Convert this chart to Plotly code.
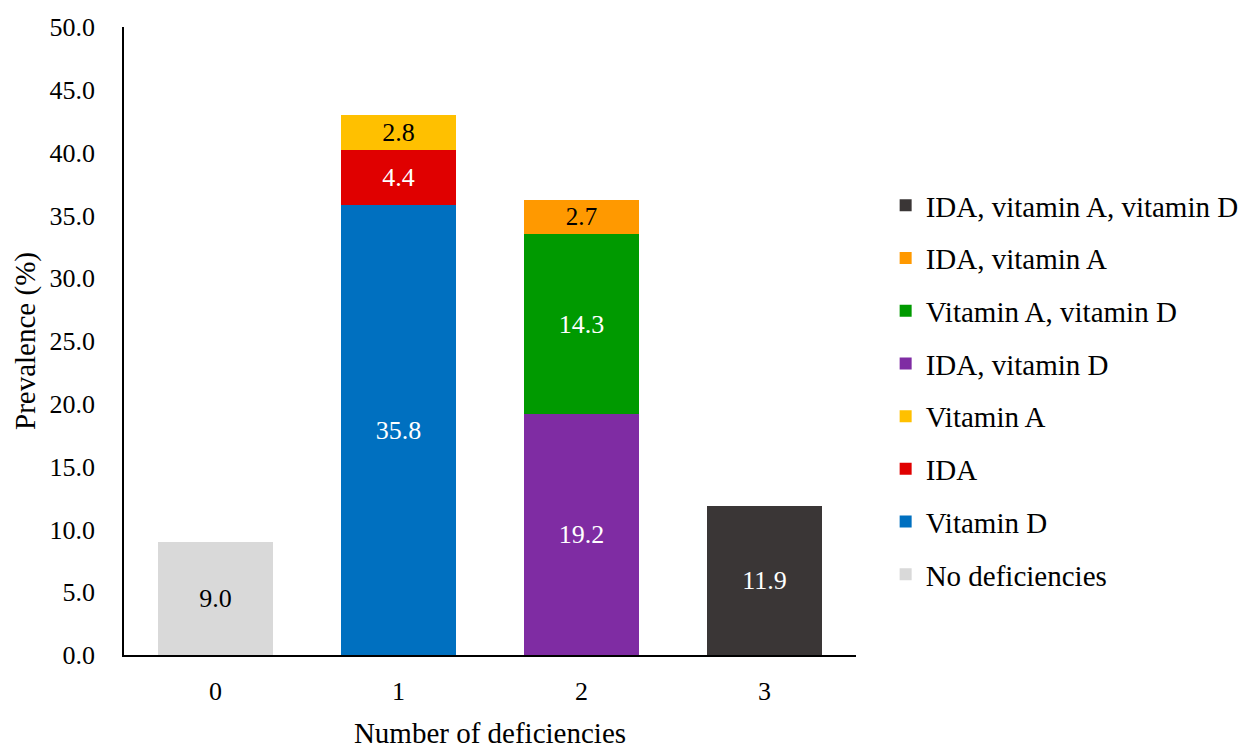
import plotly.graph_objects as go

# Number of deficiencies on the x axis
categories = ["0", "1", "2", "3"]

# Each deficiency combination, the category it belongs to, its prevalence (%) and colour
series_names = [
    "No deficiencies",
    "Vitamin D",
    "IDA",
    "Vitamin A",
    "IDA, vitamin D",
    "Vitamin A, vitamin D",
    "IDA, vitamin A",
    "IDA, vitamin A, vitamin D",
]
series_category = ["0", "1", "1", "1", "2", "2", "2", "3"]
series_values = [9.0, 35.8, 4.4, 2.8, 19.2, 14.3, 2.7, 11.9]
series_colors = [
    "#D9D9D9",
    "#0070C0",
    "#E00000",
    "#FFC000",
    "#7F2CA3",
    "#009A00",
    "#FF9900",
    "#3A3636",
]
label_colors = ["black", "white", "white", "black", "white", "white", "black", "white"]

y_ticks = [0, 5, 10, 15, 20, 25, 30, 35, 40, 45, 50]

FONT = "Palatino Linotype, Book Antiqua, Palatino, Liberation Serif, serif"

fig = go.Figure()
n = len(series_names)
for i, name in enumerate(series_names):
    fig.add_trace(
        go.Bar(
            name=name,
            x=[series_category[i]],
            y=[series_values[i]],
            marker=dict(color=series_colors[i], line=dict(width=0)),
            text=[f"{series_values[i]:.1f}"],
            texttemplate="%{text}",
            textposition="inside",
            insidetextanchor="middle",
            textangle=0,
            textfont=dict(family=FONT, size=26, color=label_colors[i]),
            legendgroup=name,
            legendrank=n - i,  # last stacked series listed first
        )
    )

fig.update_layout(
    width=1246,
    height=749,
    barmode="stack",
    bargap=0.37,
    plot_bgcolor="white",
    paper_bgcolor="white",
    margin=dict(l=124, r=390, t=27, b=94, autoexpand=False),
    font=dict(family=FONT, size=26, color="black"),
    uniformtext=dict(mode=False),
    legend=dict(
        x=1.0405,
        xanchor="left",
        y=0.422,
        yanchor="middle",
        traceorder="grouped",
        tracegroupgap=12,
        font=dict(family=FONT, size=29, color="black"),
        bgcolor="rgba(0,0,0,0)",
    ),
    showlegend=True,
)

fig.update_xaxes(
    type="category",
    categoryorder="array",
    categoryarray=categories,
    range=[-0.5, 3.5],
    showline=True,
    linecolor="black",
    linewidth=1.5,
    showgrid=False,
    ticks="",
    automargin=False,
    tickfont=dict(size=26),
    ticklabelstandoff=12,
    title=dict(text="Number of deficiencies", standoff=22, font=dict(size=29)),
)

fig.update_yaxes(
    range=[0, 50],
    tickvals=y_ticks,
    tickformat=".1f",
    showline=True,
    linecolor="black",
    linewidth=1.5,
    showgrid=False,
    zeroline=False,
    ticks="",
    automargin=False,
    tickfont=dict(size=26),
    ticklabelstandoff=22,
    title=dict(text="Prevalence (%)", standoff=5, font=dict(size=29)),
)

fig.write_html("out.html")
